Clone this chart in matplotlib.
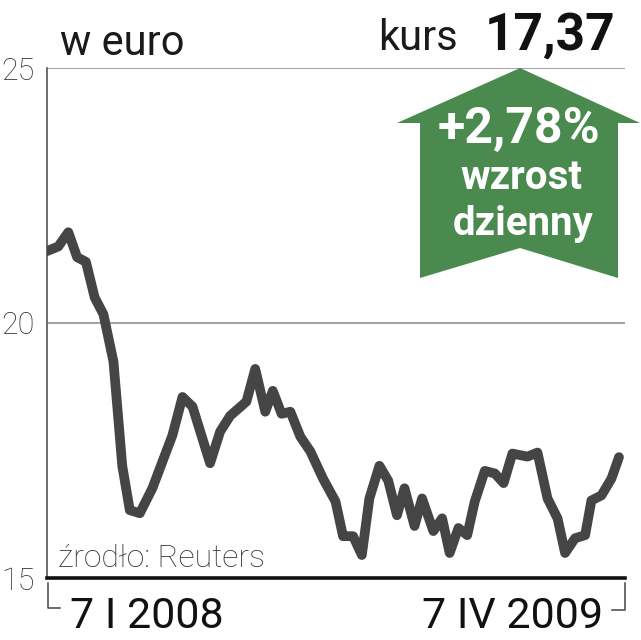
import matplotlib
matplotlib.use("Agg")
import matplotlib.pyplot as plt
from matplotlib.patches import Polygon
from matplotlib.lines import Line2D

plt.rcParams['font.family'] = ['Roboto', 'DejaVu Sans']

# days since 7 I 2008 and closing price (EUR)
days = [0, 9, 17, 24, 31, 38, 45, 53, 60, 66, 74, 84, 100, 108, 116, 130, 138,
        146, 159, 166, 174, 180, 187, 194, 202, 210, 220, 230, 236, 244, 251,
        257, 265, 272, 279, 285, 293, 299, 308, 315, 321, 328, 335, 341, 349,
        357, 364, 371, 383, 391, 399, 407, 413, 421, 429, 434, 442, 450, 456]
price = [21.41, 21.50, 21.78, 21.29, 21.20, 20.50, 20.17, 19.24, 17.20, 16.33,
         16.27, 16.76, 17.80, 18.55, 18.36, 17.25, 17.87, 18.18, 18.46, 19.10,
         18.26, 18.67, 18.22, 18.26, 17.77, 17.48, 16.95, 16.50, 15.82, 15.82,
         15.45, 16.56, 17.20, 16.91, 16.23, 16.76, 16.02, 16.56, 15.92, 16.17,
         15.49, 15.98, 15.84, 16.50, 17.10, 17.05, 16.86, 17.44, 17.38, 17.46,
         16.56, 16.17, 15.49, 15.78, 15.84, 16.52, 16.62, 16.95, 17.37]
yticks = [15, 20, 25]
start_label = "7 I 2008"
end_label = "7 IV 2009"
last_price = "17,37"
change = "+2,78%"

W, H = 641, 640


def px(x, y):
    return x / W, 1 - y / H


fig = plt.figure(figsize=(W / 100, H / 100), dpi=100)
ax = fig.add_axes([47 / W, 62 / H, 578 / W, 510 / H])

ax.plot(days, price, color='#454545', lw=7, solid_joinstyle='round',
        solid_capstyle='round', zorder=3)
ax.set_ylim(15, 25)
ax.set_xlim(0, 456 * 578 / 572)

for v in yticks[1:]:
    ax.axhline(v, color='#9a9a9a', lw=1.3, zorder=1)
ax.set_yticks(yticks)
ax.set_yticklabels([str(v) for v in yticks], fontsize=22, fontweight='light',
                   color='#333333')
ax.tick_params(axis='y', length=0, pad=9)
ax.set_xticks([])
for s in ['top', 'right']:
    ax.spines[s].set_visible(False)
ax.spines['left'].set_color('#555555')
ax.spines['left'].set_linewidth(1.2)
ax.spines['bottom'].set_color('#111111')
ax.spines['bottom'].set_linewidth(2.6)

# titles
fig.text(*px(60, 55), "w euro", fontsize=30, color='#1a1a1a', va='baseline')
fig.text(*px(458, 50), "kurs", fontsize=30, color='#1a1a1a', va='baseline',
         ha='right')
fig.text(*px(615, 50), last_price, fontsize=37, fontweight='bold',
         color='#111111', va='baseline', ha='right')

# green arrow
arrow = [(520, 68), (640, 123), (618, 123), (618, 278), (520, 248),
         (420, 278), (420, 123), (397, 123)]
fig.add_artist(Polygon([px(x, y) for x, y in arrow], closed=True,
                       facecolor='#4a8a4f', edgecolor='none',
                       transform=fig.transFigure))
fig.text(*px(519, 143), change, fontsize=36, fontweight='bold', color='white',
         ha='center', va='baseline')
fig.text(*px(521, 189), "wzrost", fontsize=29, fontweight='bold',
         color='white', ha='center', va='baseline')
fig.text(*px(523, 235), "dzienny", fontsize=29, fontweight='bold',
         color='white', ha='center', va='baseline')

# source
fig.text(*px(58, 567), "źrodło: Reuters", fontsize=23, fontweight='light',
         color='#333333', va='baseline')

# date brackets
for pts in [[(48, 583), (48, 608), (60, 608)],
            [(612, 610), (625, 610), (625, 583)]]:
    xs, ys = zip(*[px(x, y) for x, y in pts])
    fig.add_artist(Line2D(xs, ys, color='#444444', lw=1.1,
                          transform=fig.transFigure))
fig.text(*px(70, 628), start_label, fontsize=31, color='#111111',
         va='baseline')
fig.text(*px(603, 628), end_label, fontsize=31, color='#111111',
         va='baseline', ha='right')

fig.savefig('out.png', dpi=100)
